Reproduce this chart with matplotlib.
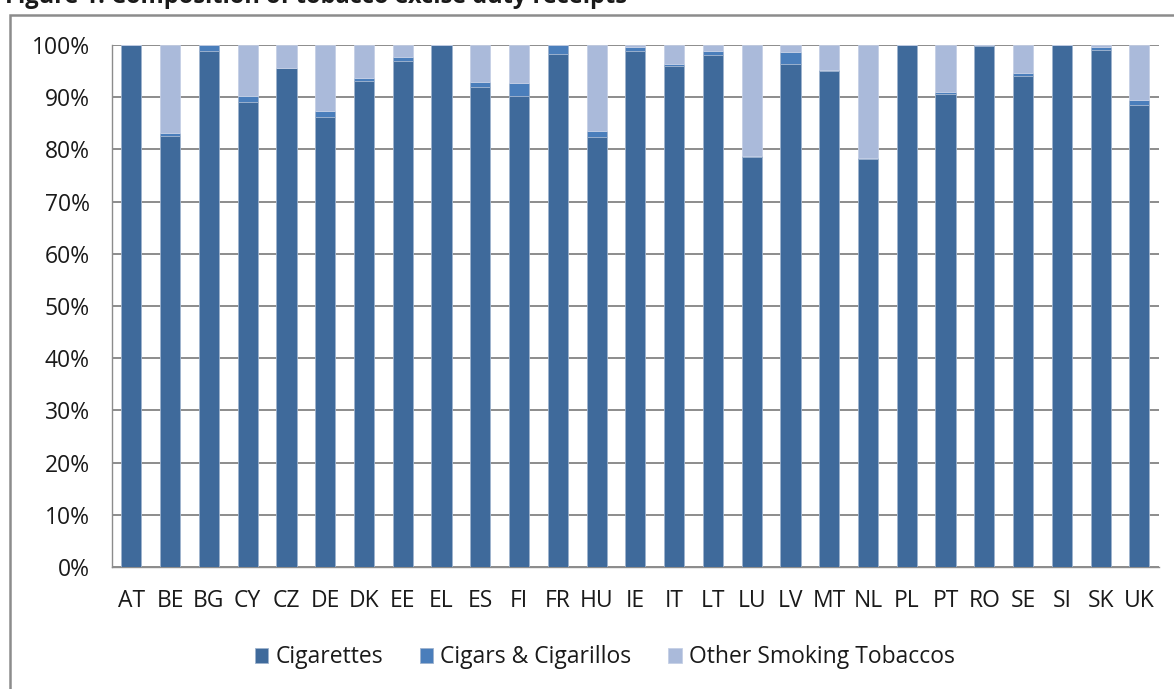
import matplotlib
matplotlib.use("Agg")
import matplotlib.pyplot as plt
import matplotlib.patches as patches
import numpy as np

plt.rcParams['font.family'] = ['Open Sans', 'DejaVu Sans']

countries = ['AT', 'BE', 'BG', 'CY', 'CZ', 'DE', 'DK', 'EE', 'EL', 'ES', 'FI', 'FR', 'HU', 'IE',
             'IT', 'LT', 'LU', 'LV', 'MT', 'NL', 'PL', 'PT', 'RO', 'SE', 'SI', 'SK', 'UK']
cigarettes = [100.0, 82.5, 98.9, 89.0, 95.6, 86.2, 93.2, 96.9, 100.0, 91.9, 90.3, 98.3, 82.3, 98.9,
              95.9, 98.1, 78.5, 96.4, 95.1, 78.1, 100.0, 90.6, 99.8, 94.0, 100.0, 99.1, 88.5]
cigars = [0.0, 0.6, 1.1, 1.3, 0.1, 1.1, 0.5, 0.8, 0.0, 1.0, 2.5, 1.7, 1.2, 0.7,
          0.5, 0.7, 0.2, 2.2, 0.1, 0.2, 0.0, 0.4, 0.2, 0.7, 0.0, 0.5, 1.0]
other = [0.0, 16.9, 0.0, 9.7, 4.3, 12.7, 6.3, 2.3, 0.0, 7.1, 7.2, 0.0, 16.5, 0.4,
         3.6, 1.2, 21.3, 1.4, 4.8, 21.7, 0.0, 9.0, 0.0, 5.3, 0.0, 0.4, 10.5]
series = ['Cigarettes', 'Cigars & Cigarillos', 'Other Smoking Tobaccos']
colours = ['#3F6A9B', '#4A7EBB', '#AABADA']

fig = plt.figure(figsize=(11.74, 6.89), dpi=100)
ax = fig.add_axes([0.0954, 0.177, 0.8916, 0.7576])

x = np.arange(len(countries))
cig = np.array(cigarettes) / 100
cgr = np.array(cigars) / 100
oth = np.array(other) / 100
w = 0.52
ax.bar(x, cig, w, color=colours[0], edgecolor='#9FB3CE', linewidth=0.6, label=series[0], zorder=3)
ax.bar(x, cgr, w, bottom=cig, color=colours[1], edgecolor='#9FB3CE', linewidth=0.6, label=series[1], zorder=3)
ax.bar(x, oth, w, bottom=cig + cgr, color=colours[2], edgecolor='#C5D0E6', linewidth=0.6, label=series[2], zorder=3)

ax.set_xlim(-0.5, len(countries) - 0.5)
ax.set_ylim(0, 1)
ax.set_yticks(np.arange(0, 1.01, 0.1))
ax.set_yticklabels([f'{int(round(v * 100))}%' for v in np.arange(0, 1.01, 0.1)])
ax.yaxis.grid(True, color='#8C8C8C', linewidth=1.4, zorder=0)
ax.set_xticks(x)
ax.set_xticklabels(countries)
ax.tick_params(axis='both', length=0, labelsize=16.5, colors='#1A1A1A')
ax.tick_params(axis='x', pad=16)
ax.tick_params(axis='y', pad=16)
for s in ['top', 'right']:
    ax.spines[s].set_visible(False)
ax.spines['left'].set_color('#8C8C8C')
ax.spines['bottom'].set_color('#8C8C8C')
ax.spines['left'].set_linewidth(1.0)
ax.spines['bottom'].set_linewidth(1.0)

leg = fig.legend(loc='center', bbox_to_anchor=(0.515, 0.046), ncol=3, frameon=False,
                 fontsize=16.5, handlelength=0.6, handleheight=0.6, handletextpad=0.3,
                 columnspacing=1.6)
for t in leg.get_texts():
    t.set_color('#1A1A1A')

# chart frame, cut off at right and bottom like the source
frame = patches.Rectangle((10 / 1174, -0.1), 1.2, 1 - 15 / 689 + 0.1, transform=fig.transFigure,
                          fill=False, edgecolor='#8C8C8C', linewidth=1.8, clip_on=False)
fig.patches.append(frame)

fig.text(5 / 1174, 1 - 3 / 689, 'Figure 1: Composition of tobacco excise duty receipts',
         fontsize=17, fontweight='bold', va='baseline', ha='left', color='#1A1A1A')

fig.savefig('out.png', dpi=100)
